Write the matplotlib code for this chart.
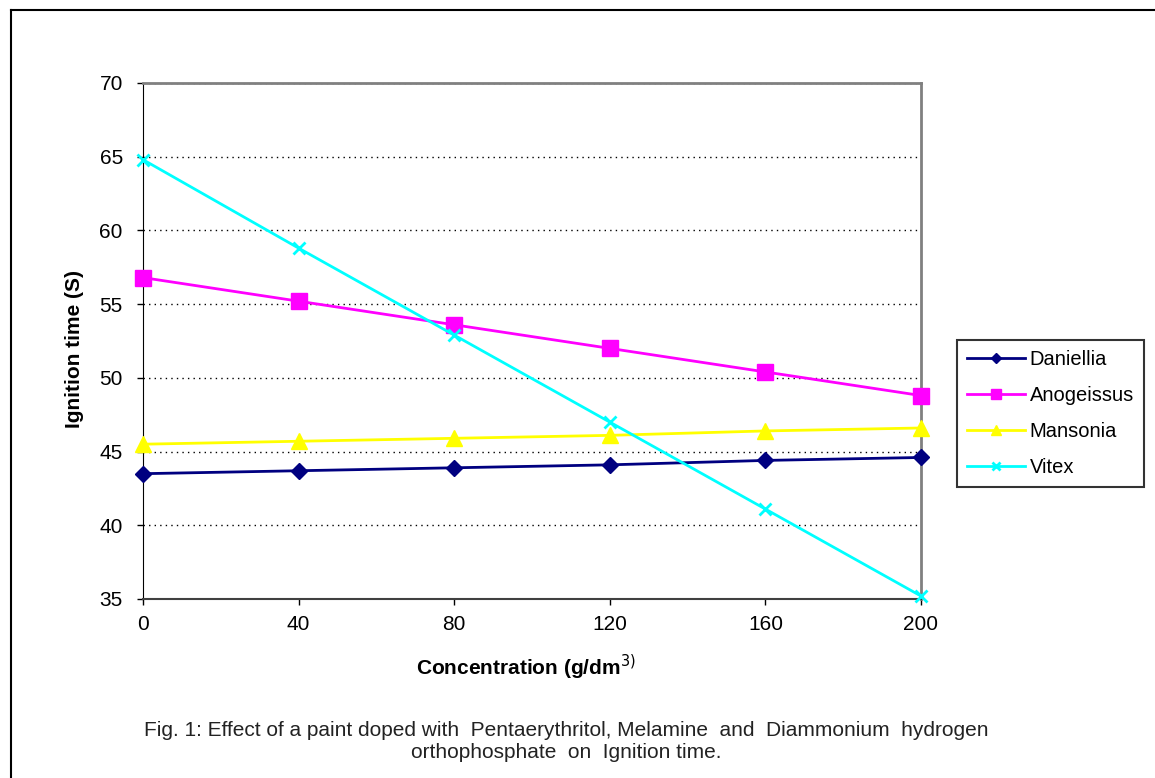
import matplotlib
matplotlib.use("Agg")
import matplotlib.pyplot as plt
from matplotlib.lines import Line2D

plt.rcParams['font.family'] = ['Liberation Sans', 'DejaVu Sans']

concentration = [0, 40, 80, 120, 160, 200]
daniellia = [43.5, 43.7, 43.9, 44.1, 44.4, 44.6]
anogeissus = [56.8, 55.2, 53.6, 52.0, 50.4, 48.8]
mansonia = [45.5, 45.7, 45.9, 46.1, 46.4, 46.6]
vitex = [64.8, 58.8, 52.9, 47.0, 41.1, 35.2]

series = [
    ("Daniellia", daniellia, "#000080", "D", 8),
    ("Anogeissus", anogeissus, "#FF00FF", "s", 11),
    ("Mansonia", mansonia, "#FFFF00", "^", 11),
    ("Vitex", vitex, "#00FFFF", "x", 9),
]

W, H = 1155, 778
fig = plt.figure(figsize=(W / 100, H / 100), dpi=100)
ax = fig.add_axes([143 / W, 1 - 599 / H, (921 - 143) / W, (599 - 83) / H])

for name, vals, color, marker, ms in series:
    ax.plot(concentration, vals, color=color, lw=2, marker=marker, markersize=ms,
            markeredgewidth=2 if marker == "x" else 1, label=name, clip_on=False, zorder=3)

ax.set_xlim(0, 200)
ax.set_ylim(35, 70)
ax.set_xticks(concentration)
ax.set_yticks(range(35, 71, 5))
ax.tick_params(axis='both', labelsize=15, length=4.5, width=1, direction='out', colors='black')
ax.tick_params(axis='x', pad=7)
ax.tick_params(axis='y', pad=10)
ax.grid(axis='y', color='black', linestyle=(0, (1, 3)), lw=1)

ax.spines['left'].set_color('black')
ax.spines['bottom'].set_color('#404040')
ax.spines['bottom'].set_linewidth(1.5)
ax.spines['top'].set_color('#808080')
ax.spines['right'].set_color('#808080')
ax.spines['top'].set_linewidth(2)
ax.spines['right'].set_linewidth(2)

ax.set_ylabel("Ignition time (S)", fontsize=15, fontweight='bold', va='center')
ax.yaxis.set_label_coords((74 - 143) / 778, (599 - 349) / 516)
ax.set_xlabel("Concentration (g/dm$^{3)}$", fontsize=15, fontweight='bold', va='center')
ax.xaxis.set_label_coords((526 - 143) / 778, (599 - 667) / 516)

leg = fig.legend(loc='upper left', bbox_to_anchor=(957 / W, 1 - 340 / H), fontsize=14.5,
                 frameon=True, fancybox=False, edgecolor='black', borderpad=0.5,
                 borderaxespad=0, labelspacing=0.85, handlelength=2.9,
                 handletextpad=0.2, markerscale=0.7)
leg.get_frame().set_linewidth(1.5)

fig.text(566 / W, 1 - 731 / H,
         "Fig. 1: Effect of a paint doped with  Pentaerythritol, Melamine  and  Diammonium  hydrogen",
         ha='center', va='center', fontsize=15, color='#222222')
fig.text(566 / W, 1 - 753 / H, "orthophosphate  on  Ignition time.",
         ha='center', va='center', fontsize=15, color='#222222')

# frame around the chart area
fig.add_artist(Line2D([11 / W, 1.0], [1 - 10 / H, 1 - 10 / H], color='black', lw=1.5,
                      transform=fig.transFigure))
fig.add_artist(Line2D([11 / W, 11 / W], [0.0, 1 - 10 / H], color='black', lw=1.5,
                      transform=fig.transFigure))

fig.savefig("out.png", dpi=100)
